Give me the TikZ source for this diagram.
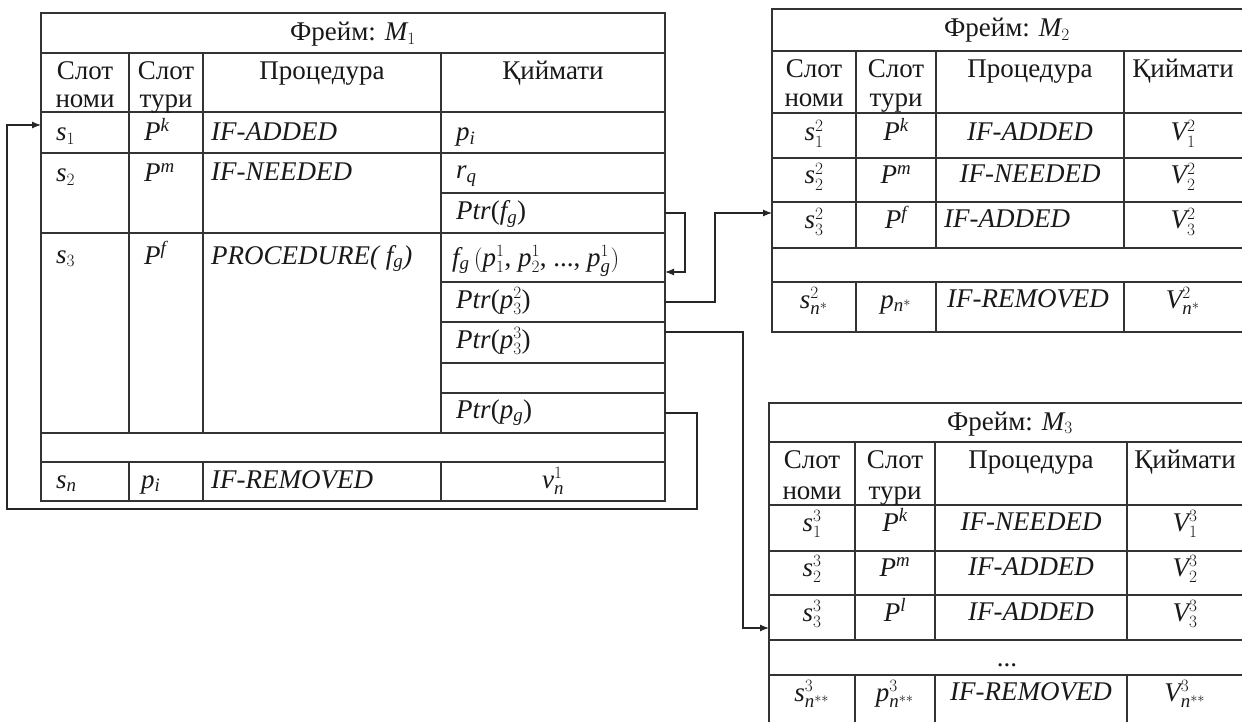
\documentclass[tikz,border=0pt]{standalone}
\usepackage{fontspec}
\setmainfont{Liberation Serif}
\DeclareSymbolFont{letters}{TU}{\rmdefault}{m}{it}
\usetikzlibrary{arrows.meta,calc}
\newcommand\cellnode[5]{\node[cellbox, minimum width={(#4)-(#2)}, minimum height={(#5)-(#3)}] (#1) at ({((#2)+(#4))/2},{((#3)+(#5))/2}) {};}
\newcommand\tx[5]{\node[txt,anchor=#2] (#1) at (#3,#4) {#5};}
\begin{document}
\begin{tikzpicture}[x=1pt,y=-1pt,
  cellbox/.style={draw=black!80, line width=1.4pt, inner sep=0pt, outer sep=0pt},
  txt/.style={inner sep=0pt, font=\fontsize{27}{32}\selectfont, text=black!90},
  conn/.style={draw=black!85, line width=1.2pt},
  arr/.style={-{Latex[length=9pt,width=7pt]}}]
\useasboundingbox (0,0) rectangle (1242,722);
\fill[white] (0,0) rectangle (1242,722);
\clip (0,0) rectangle (1242,722);

% ---------------- Frame M1 ----------------
\cellnode{m1title}{41}{13}{665}{53}
\cellnode{m1h0}{41}{53}{129}{112}
\cellnode{m1h1}{129}{53}{203}{112}
\cellnode{m1h2}{203}{53}{441}{112}
\cellnode{m1h3}{441}{53}{665}{112}
\cellnode{m1s1}{41}{112}{129}{153}
\cellnode{m1t1}{129}{112}{203}{153}
\cellnode{m1p1}{203}{112}{441}{153}
\cellnode{m1v1}{441}{112}{665}{153}
\cellnode{m1s2}{41}{153}{129}{233}
\cellnode{m1t2}{129}{153}{203}{233}
\cellnode{m1p2}{203}{153}{441}{233}
\cellnode{rq}{441}{153}{665}{193}
\cellnode{ptrfg}{441}{193}{665}{233}
\cellnode{m1s3}{41}{233}{129}{433}
\cellnode{m1t3}{129}{233}{203}{433}
\cellnode{m1p3}{203}{233}{441}{433}
\cellnode{fg}{441}{233}{665}{282}
\cellnode{ptrp32}{441}{282}{665}{322}
\cellnode{ptrp33}{441}{322}{665}{363}
\cellnode{m1e}{441}{363}{665}{393}
\cellnode{ptrpg}{441}{393}{665}{433}
\cellnode{m1gap}{41}{433}{665}{462}
\cellnode{m1sn}{41}{462}{129}{501}
\cellnode{m1tn}{129}{462}{203}{501}
\cellnode{m1pn}{203}{462}{441}{501}
\cellnode{m1vn}{441}{462}{665}{501}

\tx{a0}{base}{353}{41}{Фрейм: $M_1$}
\tx{a1}{base}{85}{80}{Слот}
\tx{a2}{base}{85}{108}{номи}
\tx{a3}{base}{166}{80}{Слот}
\tx{a4}{base}{166}{108}{тури}
\tx{a5}{base}{322}{80}{Процедура}
\tx{a6}{base}{553}{80}{Қиймати}
\tx{a7}{base west}{56}{141}{$s_1$}
\tx{a8}{base west}{144}{141}{$P^k$}
\tx{a9}{base west}{211}{141}{\itshape IF-ADDED}
\tx{a10}{base west}{456}{141}{$p_i$}
\tx{a11}{base west}{56}{182}{$s_2$}
\tx{a12}{base west}{144}{182}{$P^m$}
\tx{a13}{base west}{211}{181}{\itshape IF-NEEDED}
\tx{a14}{base west}{456}{179}{$r_q$}
\tx{a15}{base west}{456}{220}{\textit{Ptr}($f_g$)}
\tx{a16}{base west}{56}{263}{$s_3$}
\tx{a17}{base west}{144}{264}{$P^f$}
\tx{a18}{base west}{211}{264}{\itshape PROCEDURE( $f_g$)}
\tx{a19}{base west}{452}{266}{$f_g\,(p_1^1$, $p_2^1$, ..., $p_g^1)$}
\tx{a20}{base west}{456}{308}{\textit{Ptr}($p_3^2$)}
\tx{a21}{base west}{456}{348}{\textit{Ptr}($p_3^3$)}
\tx{a22}{base west}{456}{418}{\textit{Ptr}($p_g$)}
\tx{a23}{base west}{56}{488}{$s_n$}
\tx{a24}{base west}{141}{488}{$p_i$}
\tx{a25}{base west}{211}{488}{\itshape IF-REMOVED}
\tx{a26}{base}{553}{488}{$v_n^1$}

% ---------------- Frame M2 ----------------
\cellnode{m2title}{772}{9}{1246}{51}
\cellnode{m2h0}{772}{51}{856}{113}
\cellnode{m2h1}{856}{51}{936}{113}
\cellnode{m2h2}{936}{51}{1124}{113}
\cellnode{m2h3}{1124}{51}{1246}{113}
\cellnode{m2s1}{772}{113}{856}{158}
\cellnode{m2t1}{856}{113}{936}{158}
\cellnode{m2p1}{936}{113}{1124}{158}
\cellnode{m2v1}{1124}{113}{1246}{158}
\cellnode{m2s2}{772}{158}{856}{202}
\cellnode{m2t2}{856}{158}{936}{202}
\cellnode{m2p2}{936}{158}{1124}{202}
\cellnode{m2v2}{1124}{158}{1246}{202}
\cellnode{m2s3}{772}{202}{856}{248}
\cellnode{m2t3}{856}{202}{936}{248}
\cellnode{m2p3}{936}{202}{1124}{248}
\cellnode{m2v3}{1124}{202}{1246}{248}
\cellnode{m2gap}{772}{248}{1246}{282}
\cellnode{m2sn}{772}{282}{856}{332}
\cellnode{m2tn}{856}{282}{936}{332}
\cellnode{m2pn}{936}{282}{1124}{332}
\cellnode{m2vn}{1124}{282}{1246}{332}

\tx{b0}{base}{1007}{37}{Фрейм: $M_2$}
\tx{b1}{base}{814}{78}{Слот}
\tx{b2}{base}{814}{107}{номи}
\tx{b3}{base}{896}{78}{Слот}
\tx{b4}{base}{896}{107}{тури}
\tx{b5}{base}{1030}{78}{Процедура}
\tx{b6}{base}{1183}{78}{Қиймати}
\tx{b7}{base}{814}{141}{$s_1^2$}
\tx{b8}{base}{896}{141}{$P^k$}
\tx{b9}{base}{1030}{141}{\itshape IF-ADDED}
\tx{b10}{base}{1183}{141}{$V_1^2$}
\tx{b11}{base}{814}{184}{$s_2^2$}
\tx{b12}{base}{896}{184}{$P^m$}
\tx{b13}{base}{1030}{183}{\itshape IF-NEEDED}
\tx{b14}{base}{1183}{184}{$V_2^2$}
\tx{b15}{base}{814}{229}{$s_3^2$}
\tx{b16}{base}{896}{229}{$P^f$}
\tx{b17}{base west}{944}{228}{\itshape IF-ADDED}
\tx{b18}{base}{1183}{229}{$V_3^2$}
\tx{b19}{base}{814}{308}{$s_{n^*}^2$}
\tx{b20}{base}{896}{308}{$p_{n^*}$}
\tx{b21}{base}{1028}{307}{\itshape IF-REMOVED}
\tx{b22}{base}{1183}{308}{$V_{n^*}^2$}

% ---------------- Frame M3 ----------------
\cellnode{m3title}{769}{403}{1246}{442}
\cellnode{m3h0}{769}{442}{855}{505}
\cellnode{m3h1}{855}{442}{935}{505}
\cellnode{m3h2}{935}{442}{1127}{505}
\cellnode{m3h3}{1127}{442}{1246}{505}
\cellnode{m3s1}{769}{505}{855}{551}
\cellnode{m3t1}{855}{505}{935}{551}
\cellnode{m3p1}{935}{505}{1127}{551}
\cellnode{m3v1}{1127}{505}{1246}{551}
\cellnode{m3s2}{769}{551}{855}{595}
\cellnode{m3t2}{855}{551}{935}{595}
\cellnode{m3p2}{935}{551}{1127}{595}
\cellnode{m3v2}{1127}{551}{1246}{595}
\cellnode{m3s3}{769}{595}{855}{640}
\cellnode{m3t3}{855}{595}{935}{640}
\cellnode{m3p3}{935}{595}{1127}{640}
\cellnode{m3v3}{1127}{595}{1246}{640}
\cellnode{m3gap}{769}{640}{1246}{675}
\cellnode{m3sn}{769}{675}{855}{728}
\cellnode{m3tn}{855}{675}{935}{728}
\cellnode{m3pn}{935}{675}{1127}{728}
\cellnode{m3vn}{1127}{675}{1246}{728}

\tx{c0}{base}{1010}{430}{Фрейм: $M_3$}
\tx{c1}{base}{812}{468}{Слот}
\tx{c2}{base}{812}{499}{номи}
\tx{c3}{base}{895}{468}{Слот}
\tx{c4}{base}{895}{499}{тури}
\tx{c5}{base}{1031}{468}{Процедура}
\tx{c6}{base}{1185}{468}{Қиймати}
\tx{c7}{base}{812}{531}{$s_1^3$}
\tx{c8}{base}{895}{531}{$P^k$}
\tx{c9}{base}{1031}{530}{\itshape IF-NEEDED}
\tx{c10}{base}{1185}{531}{$V_1^3$}
\tx{c11}{base}{812}{576}{$s_2^3$}
\tx{c12}{base}{895}{576}{$P^m$}
\tx{c13}{base}{1031}{575}{\itshape IF-ADDED}
\tx{c14}{base}{1185}{576}{$V_2^3$}
\tx{c15}{base}{812}{621}{$s_3^3$}
\tx{c16}{base}{895}{621}{$P^l$}
\tx{c17}{base}{1031}{620}{\itshape IF-ADDED}
\tx{c18}{base}{1185}{621}{$V_3^3$}
\tx{c19}{base}{1007}{666}{...}
\tx{c20}{base}{812}{701}{$s_{n^{**}}^3$}
\tx{c21}{base}{895}{701}{$p_{n^{**}}^3$}
\tx{c22}{base}{1031}{700}{\itshape IF-REMOVED}
\tx{c23}{base}{1185}{701}{$V_{n^{**}}^3$}

% ---------------- connectors ----------------
\coordinate (k1) at (685,272);
\draw[conn,arr] (ptrfg.east) -| (k1) -- ($(fg.south east)+(0,-10)$);
\coordinate (k2) at (715,213);
\draw[conn,arr] (ptrp32.east) -| (k2) -- ($(m2s3.north west)+(0,11)$);
\coordinate (k3) at (743,628);
\draw[conn,arr] ($(ptrp33.north east)+(0,10)$) -| (k3) -- ($(m3s3.north west)+(0,33)$);
\coordinate (k4) at (697,509);
\coordinate (k5) at (7,509);
\draw[conn,arr] (ptrpg.east) -| (k4) -- (k5) |- ($(m1s1.north west)+(0,13)$);
\end{tikzpicture}
\end{document}
